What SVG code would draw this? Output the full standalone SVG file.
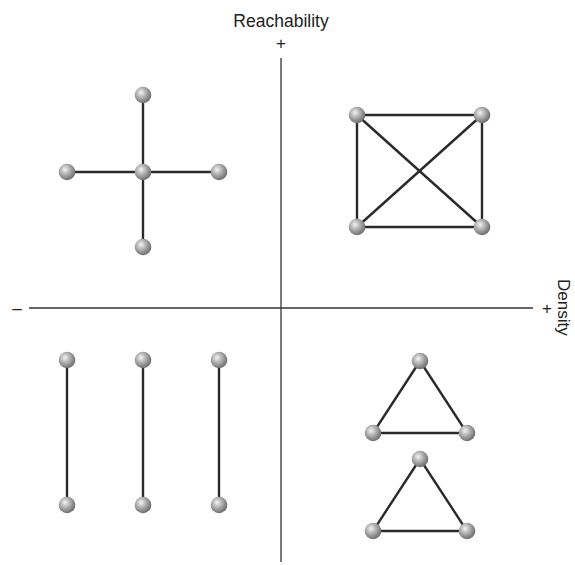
<svg xmlns="http://www.w3.org/2000/svg" width="575" height="565" viewBox="0 0 575 565">
<defs>
<radialGradient id="ball" cx="0.4" cy="0.38" r="0.62" fx="0.38" fy="0.35">
<stop offset="0" stop-color="#f4f4f4"/>
<stop offset="0.45" stop-color="#b4b4b4"/>
<stop offset="1" stop-color="#6e6e6e"/>
</radialGradient>
</defs>
<style>
.axis{stroke:#333;stroke-width:1.3;fill:none}
.edge{stroke:#2a2a2a;stroke-width:2.4;fill:none}
.n{fill:url(#ball)}
text{font-family:"Liberation Sans",Arial,sans-serif;fill:#222}
</style>
<rect width="575" height="565" fill="#fff"/>
<g id="axes">
<line class="axis" x1="281" y1="58" x2="281" y2="562"/>
<line class="axis" x1="29" y1="308" x2="533" y2="308"/>
<text x="281" y="27" font-size="17.5" text-anchor="middle">Reachability</text>
<text x="281" y="49" font-size="17" text-anchor="middle">+</text>
<text x="17" y="314" font-size="17" text-anchor="middle">–</text>
<text x="547" y="314" font-size="17" text-anchor="middle">+</text>
<text x="558" y="279" font-size="17" transform="rotate(90 558 279)">Density</text>
</g>
<g id="connectors">
<line class="edge" x1="143" y1="95" x2="143" y2="247"/>
<line class="edge" x1="67" y1="172" x2="219" y2="172"/>
<line class="edge" x1="357" y1="115" x2="482" y2="115"/>
<line class="edge" x1="357" y1="227" x2="482" y2="227"/>
<line class="edge" x1="357" y1="115" x2="357" y2="227"/>
<line class="edge" x1="482" y1="115" x2="482" y2="227"/>
<line class="edge" x1="357" y1="115" x2="482" y2="227"/>
<line class="edge" x1="482" y1="115" x2="357" y2="227"/>
<line class="edge" x1="67" y1="360" x2="67" y2="505"/>
<line class="edge" x1="143" y1="360" x2="143" y2="505"/>
<line class="edge" x1="219" y1="360" x2="219" y2="505"/>
<polygon class="edge" points="420,361 373,433 467,433"/>
<polygon class="edge" points="420,459 373,531 467,531"/>
</g>
<g id="nodes">
<circle id="c-top" class="n" cx="143" cy="95" r="8.3"/>
<circle id="c-mid" class="n" cx="143" cy="172" r="8.3"/>
<circle id="c-bot" class="n" cx="143" cy="247" r="8.3"/>
<circle id="c-left" class="n" cx="67" cy="172" r="8.3"/>
<circle id="c-right" class="n" cx="219" cy="172" r="8.3"/>
<circle id="s-tl" class="n" cx="357" cy="115" r="8.3"/>
<circle id="s-tr" class="n" cx="482" cy="115" r="8.3"/>
<circle id="s-bl" class="n" cx="357" cy="227" r="8.3"/>
<circle id="s-br" class="n" cx="482" cy="227" r="8.3"/>
<circle id="p1-top" class="n" cx="67" cy="360" r="8.3"/>
<circle id="p1-bot" class="n" cx="67" cy="505" r="8.3"/>
<circle id="p2-top" class="n" cx="143" cy="360" r="8.3"/>
<circle id="p2-bot" class="n" cx="143" cy="505" r="8.3"/>
<circle id="p3-top" class="n" cx="219" cy="360" r="8.3"/>
<circle id="p3-bot" class="n" cx="219" cy="505" r="8.3"/>
<circle id="t1-top" class="n" cx="420" cy="361" r="8.3"/>
<circle id="t1-l" class="n" cx="373" cy="433" r="8.3"/>
<circle id="t1-r" class="n" cx="467" cy="433" r="8.3"/>
<circle id="t2-top" class="n" cx="420" cy="459" r="8.3"/>
<circle id="t2-l" class="n" cx="373" cy="531" r="8.3"/>
<circle id="t2-r" class="n" cx="467" cy="531" r="8.3"/>
</g>
</svg>
